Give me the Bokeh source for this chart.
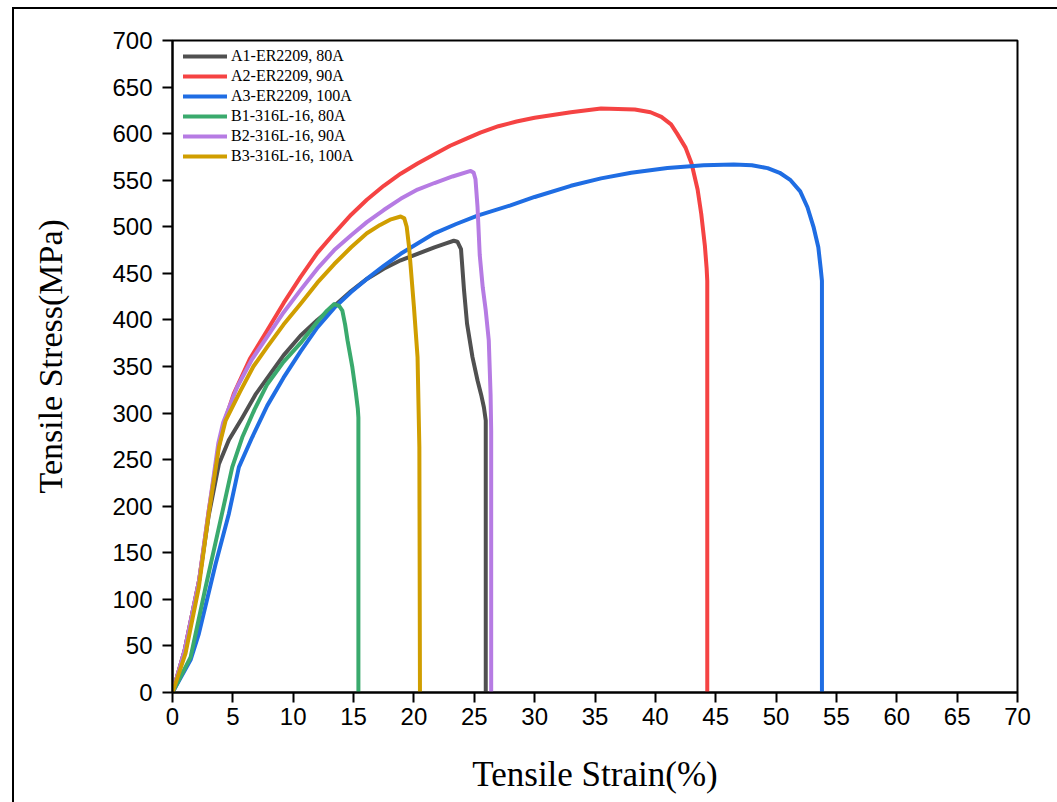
from bokeh.plotting import figure
from bokeh.models import Range1d, FixedTicker, Legend, Title, InlineStyleSheet
from bokeh.embed import file_html
from bokeh.resources import INLINE

# ---- data ----
labels = ["A1-ER2209, 80A", "A2-ER2209, 90A", "A3-ER2209, 100A",
          "B1-316L-16, 80A", "B2-316L-16, 90A", "B3-316L-16, 100A"]
colors = ["#505050", "#f54343", "#1f6de3", "#3aaa6d", "#b67be3", "#d09e00"]

a1_x = [0, 1.0, 2.2, 3.0, 3.84, 4.67, 5.78, 6.88, 8.1, 9.2, 10.6, 12, 13.4, 14.8, 16.1, 17.5,
        18.9, 20.3, 21.7, 22.6, 23.3, 23.6, 23.9, 24.15, 24.4, 24.85, 25.27, 25.6, 25.8,
        25.95, 25.95]
a1_y = [0, 45, 120, 190, 245, 271, 295, 320, 342, 362, 383, 400, 415, 431, 444, 455,
        464, 471, 478, 482, 485, 484, 476, 432, 396, 360, 335, 318, 306,
        292, 0]

a2_x = [0, 1.0, 2.2, 3.0, 3.8, 4.26, 5.08, 6.4, 7.85, 9.2, 10.6, 12, 13.4, 14.8, 16.1, 17.5,
        18.9, 20.3, 21.7, 23, 24.4, 25.5, 27, 28.5, 30, 33, 35.5, 38.3, 39.6, 40.5, 41.3, 41.8,
        42.5, 43.0, 43.5, 43.8, 44.1, 44.25, 44.3, 44.3]
a2_y = [0, 45, 120, 195, 262, 289, 321, 358, 389, 418, 446, 472, 493, 513, 529, 544,
        557, 568, 578, 587, 595, 601, 608, 613, 617, 623, 627, 626, 623, 618, 610, 600,
        585, 568, 540, 514, 480, 455, 442, 0]

a3_x = [0, 1.5, 2.18, 3.57, 4.67, 5.5, 6.6, 7.85, 9.2, 10.6, 12, 13.4, 14.8, 16.1, 17.5, 18.9,
        20.3, 21.7, 23.5, 25.27, 28, 30, 33, 35.5, 38, 41, 44, 46.5, 48, 49.3, 50.3, 51.2,
        52.0, 52.6, 53.1, 53.5, 53.7, 53.8, 53.8]
a3_y = [0, 35, 63, 138, 192, 242, 274, 308, 338, 366, 392, 413, 430, 444, 458, 471,
        482, 493, 503, 512, 523, 532, 544, 552, 558, 563, 566, 567, 566, 563, 558, 550,
        538, 521, 500, 478, 455, 442, 0]

b1_x = [0, 1.5, 2.74, 4.1, 4.95, 5.78, 6.8, 7.85, 9.2, 10.6, 12, 12.8, 13.4, 13.8, 14.07,
        14.3, 14.5, 14.9, 15.17, 15.35, 15.4, 15.4]
b1_y = [0, 38, 113, 192, 242, 274, 304, 331, 355, 375, 398, 410, 417, 415, 410,
        395, 378, 349, 324, 305, 295, 0]

b2_x = [0, 1.0, 2.2, 3.0, 3.8, 4.2, 5.36, 6.6, 7.85, 9.2, 10.6, 12, 13.4, 14.8, 16.1, 17.5,
        18.9, 20.3, 21.7, 23.2, 24.7, 24.95, 25.1, 25.27, 25.45, 25.7, 25.95, 26.2, 26.35,
        26.4, 26.4]
b2_y = [0, 45, 120, 195, 268, 290, 328, 358, 382, 408, 432, 455, 475, 491, 505, 518,
        530, 540, 547, 554, 560, 558, 551, 521, 470, 435, 410, 378, 320,
        281, 0]

b3_x = [0, 1.08, 2.18, 3.0, 3.84, 4.4, 5.64, 6.7, 7.85, 9.2, 10.6, 12, 13.4, 14.8, 16.1, 17.2,
        18.1, 18.9, 19.2, 19.4, 19.6, 20.0, 20.3, 20.45, 20.5]
b3_y = [0, 42, 113, 192, 263, 292, 324, 350, 371, 395, 417, 440, 460, 478, 493, 502,
        508, 511, 509, 500, 478, 414, 360, 263, 0]

xs = [a1_x, a2_x, a3_x, b1_x, b2_x, b3_x]
ys = [a1_y, a2_y, a3_y, b1_y, b2_y, b3_y]

x_ticks = list(range(0, 71, 5))
y_ticks = list(range(0, 701, 50))

# outer picture border (top and left edges are visible in the reference);
# the canvas is shifted 12px left, so the border sits 12px further right in it
border_css = InlineStyleSheet(css="""
:host { position: relative; }
:host::after {
  content: "";
  position: absolute;
  left: 24px; top: 7px; width: 1045px; height: 795px;
  border-left: 2px solid black; border-top: 2px solid black;
  box-sizing: border-box;
  pointer-events: none;
}
""")

# ---- figure ----
p = figure(width=1069, height=802, output_backend="svg", toolbar_location=None,
           x_range=Range1d(0, 70), y_range=Range1d(0, 700),
           min_border_left=184, min_border_right=40, min_border_top=40, min_border_bottom=110,
           stylesheets=[border_css], styles={"margin-left": "-12px"})
p.frame_width = 845
p.frame_height = 652

p.grid.visible = False
p.outline_line_color = "black"
p.outline_line_width = 2
p.background_fill_color = "white"
p.border_fill_color = "white"

renderers = []
for x, y, c in zip(xs, ys, colors):
    r = p.line(x, y, line_color=c, line_width=4, line_join="round", line_cap="round")
    renderers.append(r)

legend = Legend(items=[(lab, [r]) for lab, r in zip(labels, renderers)],
                location=(9, 524))
legend.label_text_font = "Liberation Serif"
legend.label_text_font_size = "16px"
legend.label_text_color = "black"
legend.glyph_width = 44
legend.glyph_height = 20
legend.label_height = 20
legend.label_standoff = 4
legend.spacing = 0
legend.padding = 2
legend.margin = 0
legend.border_line_alpha = 0
legend.background_fill_alpha = 0
p.add_layout(legend)

for ax in (p.xaxis[0], p.yaxis[0]):
    ax.axis_line_width = 2
    ax.axis_line_color = "black"
    ax.major_tick_line_width = 2
    ax.major_tick_out = 10
    ax.major_tick_in = 0
    ax.minor_tick_out = 0
    ax.minor_tick_in = 0
    ax.major_label_text_font = "Liberation Sans"
    ax.major_label_text_font_size = "24px"
    ax.major_label_text_color = "black"
    ax.axis_label_text_font = "Liberation Serif"
    ax.axis_label_text_font_style = "normal"
    ax.axis_label_text_color = "black"

p.xaxis[0].ticker = FixedTicker(ticks=x_ticks)
p.yaxis[0].ticker = FixedTicker(ticks=y_ticks)
p.xaxis[0].axis_label = "Tensile Strain(%)"
p.xaxis[0].axis_label_text_font_size = "35px"
p.xaxis[0].major_label_standoff = 5
p.yaxis[0].major_label_standoff = 10
p.xaxis[0].axis_label_standoff = 27

ytitle = Title(text="Tensile Stress(MPa)", align="left", offset=199,
               text_font="Liberation Serif", text_font_size="34px",
               text_font_style="normal", text_color="black", standoff=82)
p.add_layout(ytitle, "left")

open("out.html", "w").write(file_html(p, INLINE))
